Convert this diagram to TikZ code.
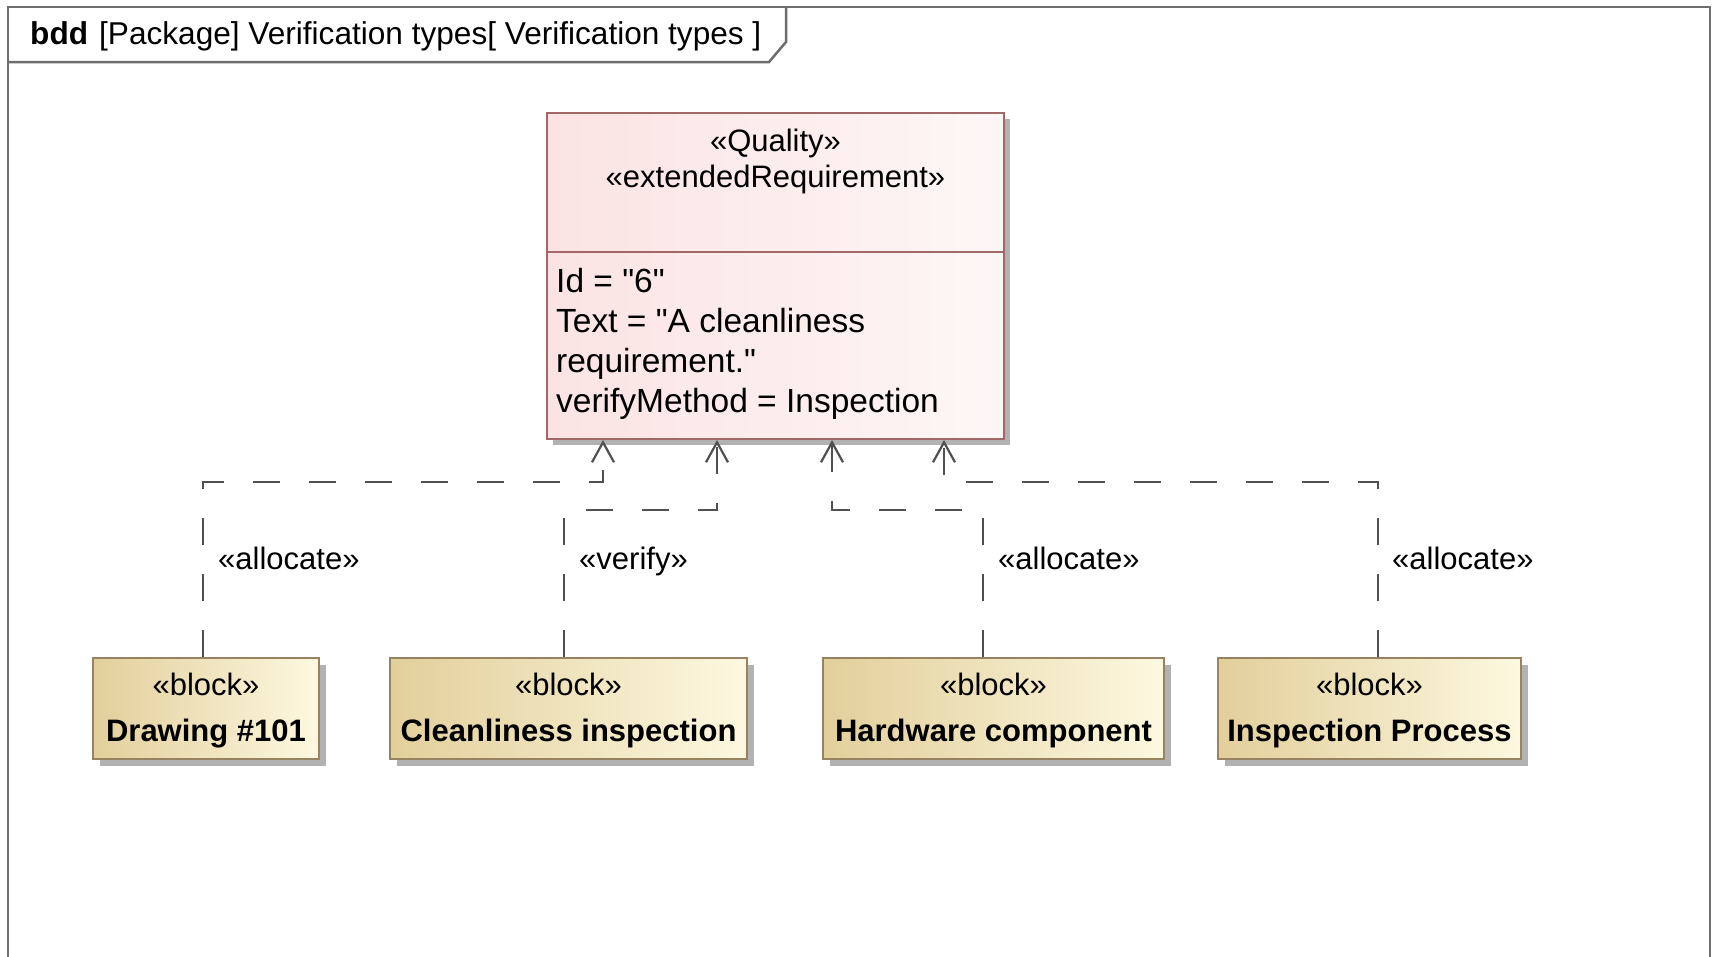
\documentclass[tikz,border=0pt]{standalone}
\usepackage{fontspec}
\setmainfont{Liberation Sans}
\newfontfamily\attrfont{Liberation Sans}
\usetikzlibrary{arrows.meta,shadows}

\definecolor{frameline}{HTML}{6E6E6E}
\definecolor{reqfill}{HTML}{FBE3E3}
\definecolor{reqline}{HTML}{A26868}
\definecolor{blkdark}{HTML}{E2CF9B}
\definecolor{blklight}{HTML}{FDF8E0}
\definecolor{blkline}{HTML}{978360}
\definecolor{depline}{HTML}{505050}

\begin{document}
\begin{tikzpicture}[x=1pt, y=-1pt,
  req/.style={draw=reqline, line width=2pt, left color=reqfill, right color=reqfill!30!white,
    minimum width=457pt, minimum height=326pt, inner sep=0pt,
    drop shadow={shadow xshift=6pt, shadow yshift=-6pt, opacity=1, fill=black!30}},
  blk/.style={draw=blkline, line width=2pt, left color=blkdark, right color=blklight,
    minimum height=101pt, inner sep=0pt, align=center,
    font=\fontsize{31}{46}\selectfont,
    drop shadow={shadow xshift=7pt, shadow yshift=-7pt, opacity=1, fill=black!30}},
  dep/.style={draw=depline, line width=2.2pt, dash pattern=on 27pt off 29pt,
    -{Straight Barb[length=20pt, width=22pt, line width=2.2pt]}},
  lbl/.style={anchor=base west, inner sep=0pt, font=\fontsize{31}{37}\selectfont}]
	\useasboundingbox (0,0) rectangle (1716,956);
	
	% 外框与标题
	\draw[frameline, line width=2.5pt] (8,990) -- (8,7) -- (1710,7) -- (1710,990);
	\draw[frameline, line width=2.5pt] (8,62) -- (769,62) -- (786,42) -- (786,7);
	\node[anchor=base west, inner sep=0pt, font=\fontsize{31.6}{37}\selectfont] (title) at (30,44)
		{\textbf{bdd}\hspace{0.35em}[Package] Verification types[ Verification types ]};
	
	% 需求
	\node[req] (req) at (775.5,276) {};
	\draw[reqline, line width=2pt] (547,252) -- (1004,252);
	\node[align=center, inner sep=0pt, font=\fontsize{31}{36}\selectfont] (stereo) at (775.5,161)
		{«Quality»\\«extendedRequirement»};
	\node[align=left, anchor=north west, inner sep=0pt, font=\attrfont\fontsize{33.5}{40}\selectfont] (attrs) at (556,268)
		{Id = "6"\\Text = "A cleanliness\\requirement."\\verifyMethod = Inspection};
	
	% 模块
	\node[blk, minimum width=226pt] (drawing) at (206,708) {\rule{0pt}{28pt}«block»\\\textbf{Drawing \#101}};
	\node[blk, minimum width=357pt] (clean) at (568.5,708) {\rule{0pt}{28pt}«block»\\\textbf{Cleanliness inspection}};
	\node[blk, minimum width=341pt] (hw) at (993.5,708) {\rule{0pt}{28pt}«block»\\\textbf{Hardware component}};
	\node[blk, minimum width=303pt] (proc) at (1369.5,708) {\rule{0pt}{28pt}«block»\\\textbf{Inspection Process}};
	
	% 连线
	\coordinate (k1) at (203,482);
	\coordinate (k2) at (564,510);
	\coordinate (k3) at (983,510);
	\coordinate (k4) at (1378,482);
	\coordinate (t1) at (603,0);
	\coordinate (t2) at (717,0);
	\coordinate (t3) at (832,0);
	\coordinate (t4) at (944,0);
	\draw[dep] (drawing.north -| k1) -- (k1) -| (req.south -| t1);
	\draw[dep] (clean.north -| k2) -- (k2) -| (req.south -| t2);
	\draw[dep] (hw.north -| k3) -- (k3) -| (req.south -| t3);
	\draw[dep] (proc.north -| k4) -- (k4) -| (req.south -| t4);
	
	\node[lbl] (l1) at (218,569) {«allocate»};
	\node[lbl] (l2) at (579,569) {«verify»};
	\node[lbl] (l3) at (998,569) {«allocate»};
	\node[lbl] (l4) at (1392,569) {«allocate»};
\end{tikzpicture}
\end{document}
